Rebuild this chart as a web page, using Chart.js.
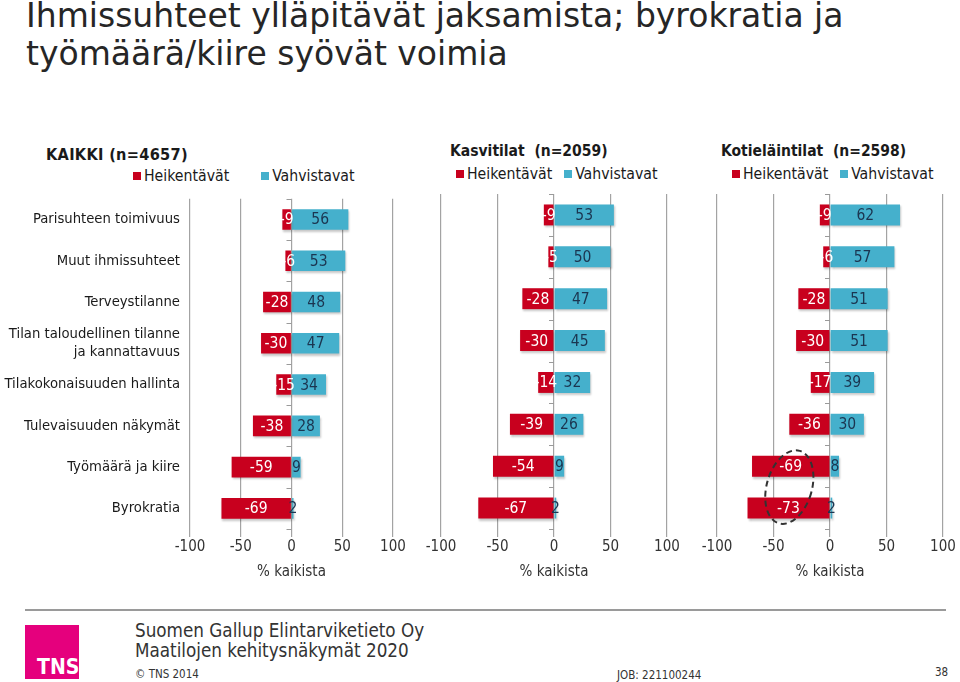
<!DOCTYPE html>
<html>
<head>
<meta charset="utf-8">
<script src="https://cdn.jsdelivr.net/npm/chart.js@4"></script>
<style>
  body { margin: 0; width: 960px; height: 682px; background: #fff; position: relative; overflow: hidden;
         font-family: 'DejaVu Sans Condensed', 'DejaVu Sans', sans-serif; }
  .abs { position: absolute; }
  #title { left: 26px; top: -3px; font-family: 'DejaVu Sans', sans-serif; font-size: 33px; line-height: 38px; color: #262626; white-space: nowrap; }
  .head { font-weight: bold; font-size: 15.5px; color: #1a1a1a; white-space: pre; }
  .leg { font-size: 15.7px; color: #1a1a1a; display: flex; align-items: center; white-space: nowrap; }
  .sq { width: 8px; height: 8px; display: inline-block; margin-right: 3px; }
  canvas { position: absolute; }
  #rule { left: 25px; top: 609px; width: 921px; height: 2px; background: #9a9a9a; }
  #logo { left: 25px; top: 625px; width: 54px; height: 54px; background: #e5007d; }
  #logo span { position: absolute; left: 12px; bottom: 0px; color: #fff; font-weight: bold; font-size: 21px; font-family: 'DejaVu Sans Condensed', sans-serif; }
  .foot { color: #333; font-size: 18.7px; white-space: nowrap; }
  .small { color: #333; font-size: 11.5px; white-space: nowrap; }
</style>
</head>
<body>
<div id="title" class="abs">Ihmissuhteet ylläpitävät jaksamista; byrokratia ja<br>työmäärä/kiire syövät voimia</div>

<div class="abs head" style="left:46px; top:145px; font-size:16.2px; letter-spacing:0.3px;">KAIKKI (n=4657)</div>
<div class="abs leg" style="left:133px; top:166px;"><i class="sq" style="background:#c8001e"></i><span style="margin-right:32px">Heikentävät</span><i class="sq" style="background:#45b0cc"></i><span>Vahvistavat</span></div>

<div class="abs head" style="left:450px; top:142px;">Kasvitilat  (n=2059)</div>
<div class="abs leg" style="left:456px; top:164px;"><i class="sq" style="background:#c8001e"></i><span style="margin-right:12px">Heikentävät</span><i class="sq" style="background:#45b0cc"></i><span>Vahvistavat</span></div>

<div class="abs head" style="left:721px; top:142px;">Kotieläintilat  (n=2598)</div>
<div class="abs leg" style="left:732px; top:164px;"><i class="sq" style="background:#c8001e"></i><span style="margin-right:12px">Heikentävät</span><i class="sq" style="background:#45b0cc"></i><span>Vahvistavat</span></div>

<canvas id="c1" width="410" height="410" style="left:0px; top:180px; width:410px; height:410px;"></canvas>
<canvas id="c2" width="270" height="410" style="left:420px; top:180px; width:270px; height:410px;"></canvas>
<canvas id="c3" width="260" height="410" style="left:700px; top:180px; width:260px; height:410px;"></canvas>

<div id="rule" class="abs"></div>
<div id="logo" class="abs"><span>TNS</span></div>
<div class="abs foot" style="left:135px; top:620px;">Suomen Gallup Elintarviketieto Oy</div>
<div class="abs foot" style="left:135px; top:640px;">Maatilojen kehitysnäkymät 2020</div>
<div class="abs small" style="left:135px; top:667px;">© TNS 2014</div>
<div class="abs small" style="left:617px; top:668px;">JOB: 221100244</div>
<div class="abs small" style="left:935px; top:665px;">38</div>

<script>
var categories = [
  'Parisuhteen toimivuus',
  'Muut ihmissuhteet',
  'Terveystilanne',
  ['Tilan taloudellinen tilanne', 'ja kannattavuus'],
  'Tilakokonaisuuden hallinta',
  'Tulevaisuuden näkymät',
  'Työmäärä ja kiire',
  'Byrokratia'
];
var seriesNames = ['Heikentävät', 'Vahvistavat'];
var xTickValues = [-100, -50, 0, 50, 100];

var kaikkiHeik = [-9, -6, -28, -30, -15, -38, -59, -69];
var kaikkiVahv = [56, 53, 48, 47, 34, 28, 9, 2];
var kasviHeik = [-9, -5, -28, -30, -14, -39, -54, -67];
var kasviVahv = [53, 50, 47, 45, 32, 26, 9, 2];
var kotiHeik = [-9, -6, -28, -30, -17, -36, -69, -73];
var kotiVahv = [62, 57, 51, 51, 39, 30, 8, 2];

var RED = '#c8001e';
var BLUE = '#45b0cc';
var FONT = "'DejaVu Sans Condensed', 'DejaVu Sans', sans-serif";

// soft drop shadow under the bars, like the office chart
var barShadow = {
  id: 'barShadow',
  beforeDatasetDraw: function(chart) {
    var ctx = chart.ctx;
    ctx.save();
    ctx.shadowColor = 'rgba(0,0,0,0.22)';
    ctx.shadowOffsetX = 1;
    ctx.shadowOffsetY = 2;
    ctx.shadowBlur = 2;
  },
  afterDatasetDraw: function(chart) {
    chart.ctx.restore();
  }
};

// values in the middle of each bar + small ticks on the zero line
var barLabels = {
  id: 'barLabels',
  afterDatasetsDraw: function(chart) {
    var ctx = chart.ctx;
    var x = chart.scales.x, y = chart.scales.y;
    ctx.save();
    ctx.strokeStyle = '#9a9a9a';
    ctx.lineWidth = 1;
    var x0 = x.getPixelForValue(0);
    for (var i = 0; i <= categories.length; i++) {
      var yy = (y.getPixelForValue(Math.max(i - 1, 0)) + y.getPixelForValue(Math.min(i, categories.length - 1))) / 2;
      if (i === 0) yy = chart.chartArea.top;
      if (i === categories.length) yy = chart.chartArea.bottom;
      ctx.beginPath();
      ctx.moveTo(x0 - 5, Math.round(yy) + 0.5);
      ctx.lineTo(x0, Math.round(yy) + 0.5);
      ctx.stroke();
    }
    ctx.font = '15.5px ' + FONT;
    ctx.textAlign = 'center';
    ctx.textBaseline = 'middle';
    chart.data.datasets.forEach(function(ds, di) {
      var meta = chart.getDatasetMeta(di);
      ctx.fillStyle = di === 0 ? '#ffffff' : '#1b3550';
      meta.data.forEach(function(el, i) {
        ctx.fillText(String(ds.data[i]), (el.x + el.base) / 2, el.y + 1);
      });
    });
    ctx.restore();
  }
};

// dashed ellipse around the two biggest negatives of the last panel
var ringMark = {
  id: 'ringMark',
  afterDatasetsDraw: function(chart) {
    var x = chart.scales.x, y = chart.scales.y;
    var cx = x.getPixelForValue(-36);
    var cy = (y.getPixelForValue(6) + y.getPixelForValue(7)) / 2;
    var rx = x.getPixelForValue(-16) - cx;
    var ry = (y.getPixelForValue(7) - y.getPixelForValue(6)) * 0.9;
    var ctx = chart.ctx;
    ctx.save();
    ctx.strokeStyle = '#333';
    ctx.lineWidth = 2;
    ctx.setLineDash([6, 4]);
    ctx.beginPath();
    ctx.ellipse(cx, cy, rx, ry, 0.28, 0, Math.PI * 2);
    ctx.stroke();
    ctx.restore();
  }
};

function makeChart(id, heik, vahv, showLabels, padL, padR, extra) {
  var ctx = document.getElementById(id).getContext('2d');
  return new Chart(ctx, {
    type: 'bar',
    data: {
      labels: categories,
      datasets: [
        { label: seriesNames[0], data: heik, backgroundColor: RED, categoryPercentage: 0.5, barPercentage: 1 },
        { label: seriesNames[1], data: vahv, backgroundColor: BLUE, categoryPercentage: 0.5, barPercentage: 1 }
      ]
    },
    options: {
      indexAxis: 'y',
      responsive: false,
      animation: false,
      layout: { padding: { left: padL, right: padR, top: 14, bottom: 5 } },
      plugins: {
        legend: { display: false },
        title: { display: false },
        tooltip: { enabled: false }
      },
      scales: {
        x: {
          stacked: true,
          min: -100, max: 100,
          afterBuildTicks: function(s) { s.ticks = xTickValues.map(function(v) { return { value: v }; }); },
          afterFit: function(s) { s.height = 56; },
          grid: { color: '#a3a3a3', lineWidth: 1.2, drawTicks: true, tickLength: 8 },
          border: { display: false },
          ticks: { color: '#333', font: { family: FONT, size: 15 }, padding: 1, maxRotation: 0 },
          title: { display: true, text: '% kaikista', color: '#333', font: { family: FONT, size: 15 }, padding: { top: 0, bottom: 4 } }
        },
        y: {
          stacked: true,
          display: showLabels,
          afterFit: function(s) { if (showLabels) s.width = 190; },
          grid: { display: false, drawTicks: false },
          border: { display: false },
          ticks: { color: '#1a1a1a', font: { family: FONT, size: 14.7, lineHeight: 1.2 }, padding: 10 }
        }
      }
    },
    plugins: [barShadow, barLabels].concat(extra || [])
  });
}

window.onload = function() {
  window.c1 = makeChart('c1', kaikkiHeik, kaikkiVahv, true, 0, 17);
  window.c2 = makeChart('c2', kasviHeik, kasviVahv, false, 21, 23);
  window.c3 = makeChart('c3', kotiHeik, kotiVahv, false, 17, 17, [ringMark]);
};
</script>
</body>
</html>
